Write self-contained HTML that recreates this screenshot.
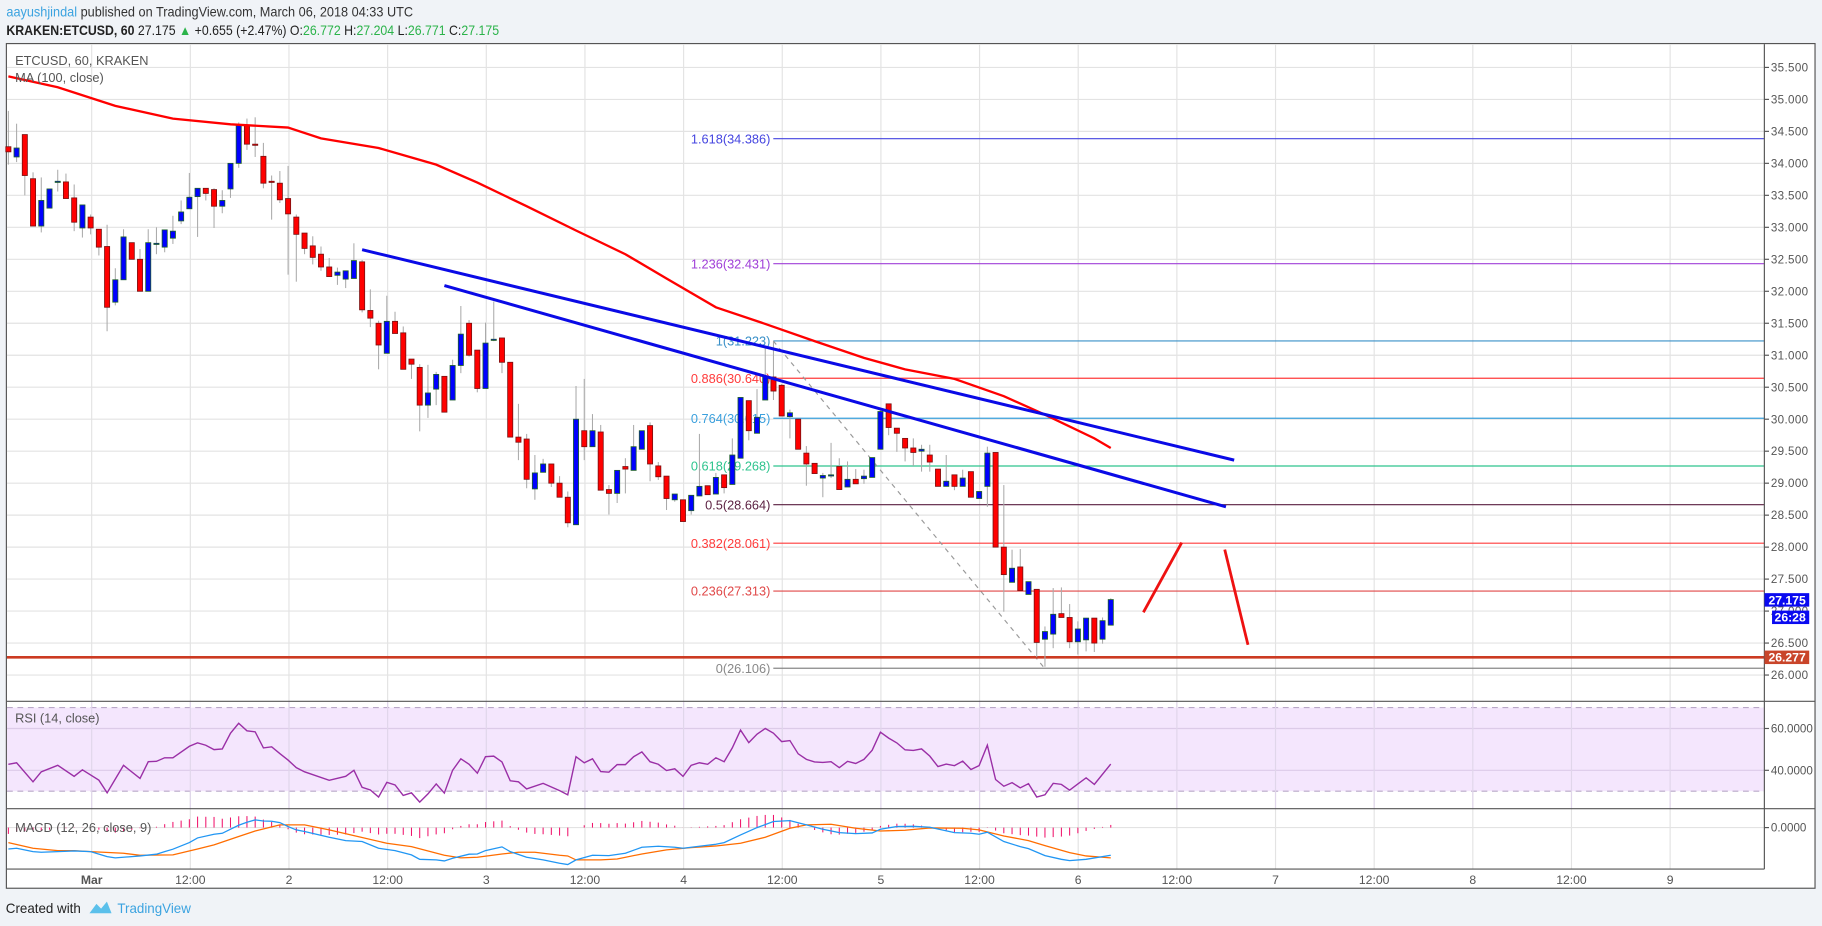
<!DOCTYPE html>
<html><head><meta charset="utf-8"><style>
html,body{margin:0;padding:0;background:#f0f3f7;}
svg{display:block;font-family:"Liberation Sans",sans-serif;}
</style></head><body>
<svg id="chart" width="1822" height="926" viewBox="0 0 1568 797" preserveAspectRatio="none" xmlns="http://www.w3.org/2000/svg">
<rect x="0" y="0" width="1568" height="797" fill="#f0f3f7"/>
<text x="5.5" y="14" font-size="11.5" fill="#333" textLength="350" lengthAdjust="spacingAndGlyphs"><tspan fill="#3ba3e0">aayushjindal</tspan> published on TradingView.com, March 06, 2018 04:33 UTC</text>
<text x="5.5" y="30" font-size="11.5" fill="#222" textLength="424" lengthAdjust="spacingAndGlyphs"><tspan font-weight="bold">KRAKEN:ETCUSD, 60</tspan> 27.175 <tspan fill="#2bb34a">▲</tspan> +0.655 (+2.47%) O:<tspan fill="#2bb34a">26.772</tspan> H:<tspan fill="#2bb34a">27.204</tspan> L:<tspan fill="#2bb34a">26.771</tspan> C:<tspan fill="#2bb34a">27.175</tspan></text>
<rect x="5.5" y="37.5" width="1556.5" height="727" fill="#fff" stroke="#555" stroke-width="1"/>
<g id="grid"></g>
<rect x="6" y="609" width="1512" height="72" fill="#f4e6fd"/>
<g id="gridOver"></g>
<g id="fib"></g>
<g id="price"></g>
<g id="ind"></g>
<g id="axes"></g>
<text x="13" y="56" font-size="11" fill="#555">ETCUSD, 60, KRAKEN</text>
<text x="13" y="70.5" font-size="11" fill="#555">MA (100, close)</text>
<text x="13" y="622" font-size="11" fill="#555">RSI (14, close)</text>
<text x="13" y="716" font-size="11" fill="#555">MACD (12, 26, close, 9)</text>
<text x="5" y="786" font-size="11.5" fill="#222">Created with</text>
<g><path d="M77 786 L83 778 L87 782 L92 776 L96 786 Z" fill="#5bc0eb"/></g>
<text x="101" y="786" font-size="11.5" fill="#3ba3e0">TradingView</text>
</svg>
<script>
// ---- data ----
const opens=[34.26,34.10,34.45,33.76,33.02,33.30,33.71,33.71,33.46,32.99,33.16,32.97,32.70,31.83,32.18,32.76,32.50,32.00,32.74,32.69,32.83,33.10,33.29,33.48,33.61,33.59,33.33,33.60,34.00,34.60,34.30,34.11,33.72,33.69,33.45,33.16,32.91,32.71,32.58,32.38,32.25,32.19,32.20,32.46,31.70,31.50,31.03,31.53,31.35,30.94,30.81,30.22,30.47,30.67,30.30,30.84,31.50,31.08,30.48,31.24,31.27,30.89,29.72,29.69,28.91,29.17,29.30,29.00,28.78,28.35,29.82,29.57,29.80,28.90,28.84,29.26,29.20,29.53,29.90,29.27,29.11,28.74,28.74,28.57,28.80,28.96,28.83,29.13,28.98,29.39,30.29,29.78,30.30,30.66,30.53,30.04,30.00,29.47,29.31,29.08,29.12,29.26,28.94,29.06,29.07,29.09,29.53,30.24,29.86,29.70,29.55,29.50,29.44,29.22,28.95,29.13,28.95,29.18,28.76,28.95,29.48,28.00,27.45,27.69,27.26,27.34,26.56,26.64,26.96,26.90,26.52,26.55,26.89,26.56,26.78];
const highs=[34.82,34.62,34.45,33.86,33.78,33.60,33.90,33.84,33.67,33.35,33.20,32.97,33.04,32.36,32.97,32.76,32.66,32.97,33.00,32.96,33.18,33.42,33.85,33.61,33.61,33.61,33.58,34.00,34.64,34.70,34.72,34.32,33.81,33.88,33.96,33.20,32.91,32.86,32.70,32.52,32.37,32.32,32.75,32.49,32.03,31.54,31.93,31.68,31.45,30.94,30.86,30.85,30.74,30.67,30.93,31.77,31.55,31.08,31.51,31.84,31.27,30.89,30.24,29.77,29.44,29.38,29.30,29.11,28.87,30.52,30.63,30.08,29.91,28.97,29.20,29.39,29.91,29.82,29.95,29.33,29.11,28.83,28.74,28.81,29.77,28.96,29.16,29.13,29.70,30.34,30.29,30.47,31.14,31.21,30.55,30.15,30.00,29.58,29.31,29.16,29.63,29.39,29.34,29.22,29.21,29.40,30.14,30.24,29.86,29.70,29.70,29.60,29.60,29.22,29.44,29.13,29.21,29.18,28.87,29.57,29.48,28.97,27.96,27.97,27.46,27.34,26.76,27.36,27.37,27.11,26.84,26.89,26.89,26.90,27.20];
const lows=[33.98,34.02,33.50,33.02,32.92,33.30,33.56,33.45,32.94,32.84,32.89,32.56,31.375,31.78,32.18,32.50,32.00,32.00,32.58,32.61,32.74,33.05,33.29,32.85,33.42,32.99,33.22,33.46,33.93,34.21,34.10,33.61,33.12,33.38,32.26,32.15,32.58,32.42,32.32,32.23,32.10,32.05,32.20,31.67,31.44,30.78,31.03,31.34,30.78,30.63,29.81,30.02,30.22,30.11,30.30,30.72,30.98,30.42,30.48,31.22,30.72,29.72,29.36,28.92,28.74,29.17,28.94,28.78,28.31,28.35,29.36,29.57,28.89,28.51,28.69,28.84,29.20,29.53,29.03,29.05,28.58,28.71,28.40,28.51,28.80,28.82,28.83,28.84,28.98,29.39,29.67,29.78,30.30,30.30,30.05,29.70,29.53,28.96,29.15,28.78,29.08,28.90,28.94,28.99,28.99,29.09,29.53,29.75,29.49,29.34,29.27,29.18,29.18,28.95,28.95,28.89,28.95,28.78,28.76,28.63,28.00,26.99,27.45,27.32,27.26,26.28,26.13,26.42,26.90,26.42,26.32,26.37,26.36,26.49,26.78];
const closes=[34.18,34.24,33.81,33.02,33.42,33.60,33.72,33.45,33.08,33.35,32.99,32.69,31.75,32.18,32.85,32.50,32.00,32.76,32.75,32.96,32.94,33.24,33.47,33.61,33.53,33.33,33.42,34.00,34.60,34.30,34.29,33.69,33.71,33.43,33.21,32.89,32.67,32.53,32.38,32.23,32.30,32.32,32.48,31.71,31.58,31.16,31.53,31.34,30.78,30.86,30.22,30.41,30.70,30.11,30.84,31.33,31.00,30.48,31.19,31.25,30.89,29.72,29.64,29.06,29.16,29.30,29.00,28.78,28.38,30.00,29.57,29.82,28.89,28.84,29.20,29.22,29.57,29.82,29.30,29.10,28.76,28.83,28.40,28.81,28.95,28.82,29.09,28.93,29.44,30.34,29.82,30.03,30.66,30.44,30.05,30.10,29.53,29.30,29.15,29.12,29.13,28.90,29.06,28.99,29.11,29.40,30.12,29.87,29.78,29.55,29.48,29.53,29.33,28.95,29.03,28.95,29.08,28.78,28.87,29.47,28.00,27.57,27.67,27.32,27.46,26.51,26.68,26.95,26.90,26.52,26.72,26.89,26.50,26.85,27.18];
const maIdx=[0,6,13,20,27,34,38,45,52,57,63,69,75,80,86,92,98,104,109,115,121,126,132,134];
const maVal=[35.36,35.19,34.90,34.70,34.61,34.56,34.39,34.24,33.98,33.70,33.33,32.95,32.58,32.20,31.75,31.49,31.22,30.96,30.78,30.63,30.36,30.07,29.70,29.55];
const rsiIdx=[0,1,3,4,6,8,9,11,12,13,14,16,17,18,19,20,22,23,24,25,26,27,28,29,30,31,32,33,34,35,36,39,41,42,43,44,45,46,47,48,49,50,51,52,53,54,55,56,57,58,59,60,61,62,63,65,67,68,69,70,71,72,73,74,75,76,77,78,79,80,81,82,83,84,85,86,87,88,89,90,91,92,93,94,95,96,97,98,99,100,101,102,103,104,105,106,107,108,109,110,111,112,113,114,115,116,117,118,119,120,121,122,123,124,125,126,127,128,129,130,131,132,134];
const rsiVal=[42.9,43.6,34.5,39.3,42.4,37.1,40.2,35.3,29.2,35.8,42.4,36.1,44.1,44.3,46.0,46.0,51.5,53.1,52.0,49.9,50.2,57.8,62.5,58.9,58.4,50.7,51.2,48.0,44.9,41.3,39.3,35.2,37.1,40.0,31.9,30.6,27.2,34.2,33.0,28.0,29.2,24.8,28.7,33.5,29.1,40.0,45.5,42.9,38.6,46.5,46.8,44.0,35.0,34.5,31.1,33.8,30.3,28.3,46.5,43.6,45.5,39.4,39.1,42.7,42.7,46.5,48.8,44.1,42.9,39.9,40.7,37.1,42.4,43.6,42.9,46.0,44.1,50.7,59.2,53.2,57.3,60.0,57.8,53.7,54.2,47.9,45.2,44.0,43.8,44.1,41.3,44.3,43.3,45.2,49.6,58.2,55.4,53.1,49.8,49.5,50.2,46.8,41.8,43.0,42.2,44.4,40.4,42.2,52.0,35.6,32.4,34.1,31.6,33.6,27.2,28.3,33.8,33.3,30.5,33.5,36.4,33.3,43.0];
const macdIdx=[0,1,3,4,6,8,10,12,13,16,18,19,20,22,23,25,26,27,28,29,30,31,32,33,34,35,36,39,41,43,45,47,49,50,52,53,54,56,57,58,60,61,63,65,67,68,69,71,73,75,77,79,81,82,84,86,87,89,91,93,95,97,99,101,103,105,106,108,110,112,115,117,118,119,121,123,124,126,128,129,131,134];
const macdVal=[-0.32,-0.31,-0.36,-0.37,-0.36,-0.35,-0.36,-0.435,-0.455,-0.425,-0.40,-0.36,-0.325,-0.225,-0.155,-0.10,-0.085,-0.025,0.035,0.08,0.115,0.10,0.095,0.075,0.015,-0.035,-0.06,-0.145,-0.195,-0.21,-0.31,-0.345,-0.41,-0.475,-0.485,-0.50,-0.46,-0.40,-0.395,-0.345,-0.29,-0.36,-0.445,-0.485,-0.535,-0.555,-0.485,-0.415,-0.42,-0.385,-0.295,-0.28,-0.295,-0.31,-0.28,-0.25,-0.225,-0.11,0.0,0.09,0.105,0.04,-0.025,-0.075,-0.09,-0.08,-0.025,0.015,0.02,0.005,-0.075,-0.085,-0.10,-0.07,-0.21,-0.285,-0.315,-0.42,-0.475,-0.495,-0.475,-0.415];
const sigIdx=[0,3,6,8,10,14,16,20,23,25,28,30,33,36,39,42,46,49,53,55,57,60,62,64,67,68,69,72,74,77,80,83,86,89,92,95,97,100,103,106,109,112,116,118,121,124,126,129,131,134];
const sigVal=[-0.225,-0.31,-0.345,-0.345,-0.36,-0.385,-0.415,-0.41,-0.32,-0.26,-0.135,-0.05,0.04,0.04,-0.035,-0.12,-0.235,-0.285,-0.415,-0.455,-0.445,-0.395,-0.37,-0.37,-0.415,-0.425,-0.485,-0.485,-0.47,-0.395,-0.335,-0.30,-0.275,-0.235,-0.145,-0.01,0.04,0.05,-0.01,-0.05,-0.04,-0.005,-0.01,-0.035,-0.125,-0.195,-0.27,-0.375,-0.425,-0.455];
const priceTicks=[26,26.5,27,27.5,28,28.5,29,29.5,30,30.5,31,31.5,32,32.5,33,33.5,34,34.5,35,35.5];
const timeLabels=["Mar","12:00","2","12:00","3","12:00","4","12:00","5","12:00","6","12:00","7","12:00","8","12:00","9"];
const fibLevels=["1.618","1.236","1","0.886","0.764","0.618","0.5","0.382","0.236","0"];
const fibPrices=[34.386,32.431,31.223,30.640,30.015,29.268,28.664,28.061,27.313,26.106];
const fibColors=["#4545e0","#a040d8","#3a90c8","#ff3b3b","#3ba0dd","#2ec48e","#5a1f40","#ff3b3b","#e04848","#888"];
const trendlines=[[43,32.65,149,29.36],[53,32.09,148,28.63]];
const supportPrice=26.277;
const lastPrice=27.175;
// ---- scales ----
const NS="http://www.w3.org/2000/svg";
const PLOT_R=1518.4;
function xI(i){return 7.2+7.08*i;}
function yP(p){return 581-(p-26)*55.05;}
function yR(v){return 627+(60-v)*1.8;}
function yM(v){return 712.3-v*57.37;}
function mk(tag,attrs,parent){const e=document.createElementNS(NS,tag);for(const k in attrs)e.setAttribute(k,attrs[k]);parent.appendChild(e);return e;}
const G=document.getElementById('grid'),GO=document.getElementById('gridOver'),F=document.getElementById('fib'),P=document.getElementById('price'),I=document.getElementById('ind'),A=document.getElementById('axes');
timeLabels.forEach((t,k)=>{const x=78.9+84.9*k;
 const l=mk('line',{x1:x,x2:x,y1:38,y2:748,stroke:'#e3e3e3','stroke-width':1},G);
 
 
 const tx=mk('text',{x:x,y:761,'font-size':10.5,fill:'#555','text-anchor':'middle','font-weight':k==0?'bold':'normal'},A);
 tx.textContent=t;
 
 
});
priceTicks.forEach(p=>{const y=yP(p);
 const l=mk('line',{x1:6,x2:PLOT_R,y1:y,y2:y,stroke:'#e3e3e3','stroke-width':1},G);
 
 
 mk('line',{x1:PLOT_R,x2:PLOT_R+4,y1:y,y2:y,stroke:'#555'},A);
 const tx=mk('text',{x:1524,y:y+3.5,'font-size':10,fill:'#555','letter-spacing':'0.3'},A);
 tx.textContent=p.toFixed(3);
 
 
});
[60,40].forEach(v=>{const y=yR(v);
 mk('line',{x1:6,x2:PLOT_R,y1:y,y2:y,stroke:'#dccbe8'},GO);
 mk('line',{x1:PLOT_R,x2:PLOT_R+4,y1:y,y2:y,stroke:'#555'},A);
 const tx=mk('text',{x:1524,y:y+3.5,'font-size':10,fill:'#555'},A);
 tx.textContent=v.toFixed(4);
 
 
});
[70,30].forEach(v=>{mk('line',{x1:6,x2:PLOT_R,y1:yR(v),y2:yR(v),stroke:'#b9a8c8','stroke-dasharray':'5,4'},GO);});
timeLabels.forEach((t,k)=>{const x=78.9+84.9*k;mk('line',{x1:x,x2:x,y1:604,y2:696,stroke:'#e0d6ea'},GO);});
mk('line',{x1:6,x2:PLOT_R,y1:yM(0),y2:yM(0),stroke:'#e3e3e3'},GO);
mk('line',{x1:PLOT_R,x2:PLOT_R+4,y1:yM(0),y2:yM(0),stroke:'#555'},A);
{const tx=mk('text',{x:1524,y:yM(0)+3.5,'font-size':10,fill:'#555'},A);tx.textContent='0.0000';
 
 }
mk('line',{x1:PLOT_R,x2:PLOT_R,y1:38,y2:748,stroke:'#555'},A);
mk('line',{x1:6,x2:1562,y1:603.6,y2:603.6,stroke:'#555'},A);
mk('line',{x1:6,x2:1562,y1:696,y2:696,stroke:'#555'},A);
mk('line',{x1:6,x2:PLOT_R,y1:748,y2:748,stroke:'#555'},A);
fibLevels.forEach((lv,k)=>{const y=yP(fibPrices[k]);
 const l=mk('line',{x1:665.5,x2:PLOT_R,y1:y,y2:y,stroke:fibColors[k],'stroke-width':1},F);
 
 
 const tx=mk('text',{x:663,y:y+4,'font-size':11,fill:fibColors[k],'text-anchor':'end'},F);
 tx.textContent=lv+'('+fibPrices[k].toFixed(3)+')';
 
 
});
{const d=mk('line',{x1:665.5,y1:yP(fibPrices[2]),x2:899,y2:yP(fibPrices[9]),stroke:'#999','stroke-dasharray':'4,4','stroke-width':1},F);
 
 }
{const s=mk('line',{x1:6,x2:PLOT_R,y1:yP(supportPrice),y2:yP(supportPrice),stroke:'#cc3a22','stroke-width':2.2},F);
 
 }
for(let i=0;i<opens.length;i++){
 const x=xI(i),o=opens[i],c=closes[i],up=c>=o;
 const g=mk('g',{},P);
 
 
 mk('line',{x1:x,x2:x,y1:yP(highs[i]),y2:yP(lows[i]),stroke:'#aaa','stroke-width':0.9},g);
 const top=yP(Math.max(o,c)),bot=yP(Math.min(o,c));
 mk('rect',{x:x-2.2,y:top,width:4.4,height:Math.max(1,bot-top),fill:up?'#0000ff':'#ff0000',stroke:up?'#1d5e2a':'#7a1010','stroke-width':0.7},g);
}
{let d='';maIdx.forEach((ix,k)=>{d+=(k?'L':'M')+xI(ix).toFixed(1)+' '+yP(maVal[k]).toFixed(1);});
 const m=mk('path',{d:d,fill:'none',stroke:'#ff0000','stroke-width':2},P);
 
 }
trendlines.forEach(t=>{const l=mk('line',{x1:xI(t[0]),y1:yP(t[1]),x2:xI(t[2]),y2:yP(t[3]),stroke:'#0a0ae6','stroke-width':2.6},P);
 
 });
[[984,527,1017,467],[1054,473,1074,555]].forEach(a=>{const l=mk('line',{x1:a[0],y1:a[1],x2:a[2],y2:a[3],stroke:'#ee1111','stroke-width':2.4},P);
 
 });
{let d='';rsiIdx.forEach((ix,k)=>{d+=(k?'L':'M')+xI(ix).toFixed(1)+' '+yR(rsiVal[k]).toFixed(1);});
 const r=mk('path',{d:d,fill:'none',stroke:'#9a2fa6','stroke-width':1.2},I);
 
 }
function interp(idx,val,i){if(i<=idx[0])return val[0];for(let k=1;k<idx.length;k++){if(i<=idx[k]){const t=(i-idx[k-1])/(idx[k]-idx[k-1]);return val[k-1]+t*(val[k]-val[k-1]);}}return val[val.length-1];}
for(let i=0;i<closes.length;i++){const h=interp(macdIdx,macdVal,i)-interp(sigIdx,sigVal,i);
 const b=mk('line',{x1:xI(i),x2:xI(i),y1:yM(0),y2:yM(h),stroke:'#f0136b','stroke-width':0.9},I);
 
 }
{let d='';sigIdx.forEach((ix,k)=>{d+=(k?'L':'M')+xI(ix).toFixed(1)+' '+yM(sigVal[k]).toFixed(1);});
 const s=mk('path',{d:d,fill:'none',stroke:'#ff6d00','stroke-width':1.1},I);
 
 }
{let d='';macdIdx.forEach((ix,k)=>{d+=(k?'L':'M')+xI(ix).toFixed(1)+' '+yM(macdVal[k]).toFixed(1);});
 const m=mk('path',{d:d,fill:'none',stroke:'#2196f3','stroke-width':1.1},I);
 
 }
function tag(y,txt,bg,x0,name){const g=mk('g',{},A);
 
 
 mk('rect',{x:x0,y:y-5.8,width:1557-x0,height:11.6,fill:bg},g);
 const t=mk('text',{x:1554,y:y+3.8,'font-size':10.5,fill:'#fff','text-anchor':'end','font-weight':'bold'},g);t.textContent=txt;}
tag(yP(lastPrice),lastPrice.toFixed(3),'#0a0af0',1518.5,'last-price-tag');
tag(yP(lastPrice)+15,'26:28','#0a0af0',1525,'countdown-tag');
tag(yP(supportPrice),supportPrice.toFixed(3),'#c9452a',1518.5,'support-price-tag');
</script>
</body></html>
